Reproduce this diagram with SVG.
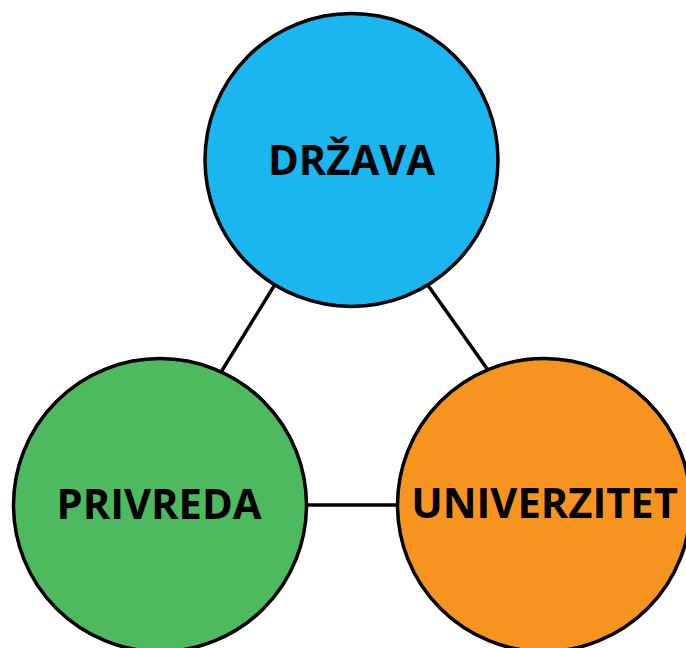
<svg xmlns="http://www.w3.org/2000/svg" width="686" height="648" viewBox="0 0 686 648">
<style>
.node{stroke:#000;stroke-width:3.5}
.lbl{font-family:"Open Sans","Liberation Sans",sans-serif;font-weight:700;font-size:41.7px;fill:#000;text-anchor:middle}
.conn{stroke:#000;stroke-width:3.5;fill:none}
</style>
<rect width="686" height="648" fill="#fff"/>
<g id="connectors">
<line class="conn" x1="290" y1="260" x2="210" y2="390"/>
<line class="conn" x1="415" y1="267" x2="500" y2="387"/>
<line class="conn" x1="290" y1="505" x2="415" y2="505"/>
</g>
<g id="drzava">
<circle class="node" cx="351.5" cy="160" r="146.5" fill="#1BB5F0"/>
<text class="lbl" x="351.5" y="175">DRŽAVA</text>
</g>
<g id="privreda">
<circle class="node" cx="160" cy="505" r="146.5" fill="#4DBA5F"/>
<text class="lbl" x="159" y="519">PRIVREDA</text>
</g>
<g id="univerzitet">
<circle class="node" cx="544" cy="505" r="146.5" fill="#F7941F"/>
<text class="lbl" x="544.5" y="518">UNIVERZITET</text>
</g>
</svg>
